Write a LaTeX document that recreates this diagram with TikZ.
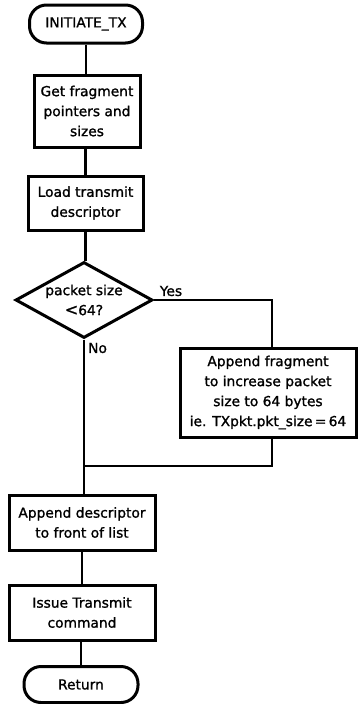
\documentclass[tikz,border=0pt]{standalone}
\usepackage{fontspec}
\setmainfont{DejaVu Sans}
\newfontface\penfont{DejaVu Sans}[FakeBold=1.2]
\usetikzlibrary{shapes.geometric}
\tikzset{
  x=1pt, y=-1pt,
  every node/.style={font=\penfont\fontsize{13.8}{20}\selectfont, align=center, inner sep=0pt},
  procbox/.style={draw, line width=3pt, rectangle},
  termbox/.style={draw, line width=3pt, rectangle, rounded corners=17pt},
  decbox/.style={draw, line width=3pt, diamond, shape aspect=1.8},
  conn/.style={line width=2.6pt},
  lbl/.style={font=\penfont\fontsize{13.8}{16}\selectfont}
}
\begin{document}
\begin{tikzpicture}
\useasboundingbox (0,0) rectangle (357,704);
\fill[white] (0,0) rectangle (357,704);

\node[termbox, minimum width=113pt, minimum height=38pt] (t1) at (86,24) {INITIATE\_TX};
\node[procbox, minimum width=106pt, minimum height=72pt] (b1) at (87,111) {Get fragment\\pointers and\\sizes};
\node[procbox, minimum width=115pt, minimum height=54pt] (b2) at (85.5,203) {Load transmit\\descriptor};
\node[decbox, minimum width=137pt, minimum height=76pt] (d) at (84,300) {packet size\\{\fontsize{16}{20}\selectfont<}64?};
\node[procbox, minimum width=176pt, minimum height=89pt] (b3) at (268,392.5) {Append fragment\\to increase packet\\size to 64 bytes\\ie. TXpkt.pkt\_size\,=\,64};
\node[procbox, minimum width=146pt, minimum height=55pt] (b4) at (82,522.5) {Append descriptor\\to front of list};
\node[procbox, minimum width=146pt, minimum height=55pt] (b5) at (82,612.5) {Issue Transmit\\command};
\node[termbox, minimum width=114pt, minimum height=36pt] (r) at (81,684.5) {Return};

\node[lbl] (yes) at (171,291) {Yes};
\node[lbl, anchor=west] (no) at (88,348) {No};

\coordinate (yc) at (272,300);
\coordinate (m) at (84,466);

\draw[conn] (t1.south) -- (t1.south |- b1.north);
\draw[conn] (b1.south -| b2.north) -- (b2.north);
\draw[conn] (b2.south) -- (b2.south |- d.north);
\draw[conn] (d.east) -- (yc) -- (yc |- b3.north);
\draw[conn] (yc |- b3.south) -- (yc |- m) -- (m);
\draw[conn] (d.south) -- (d.south |- b4.north);
\draw[conn] (b4.south) -- (b5.north);
\draw[conn] (b5.south -| r.north) -- (r.north);
\end{tikzpicture}
\end{document}
